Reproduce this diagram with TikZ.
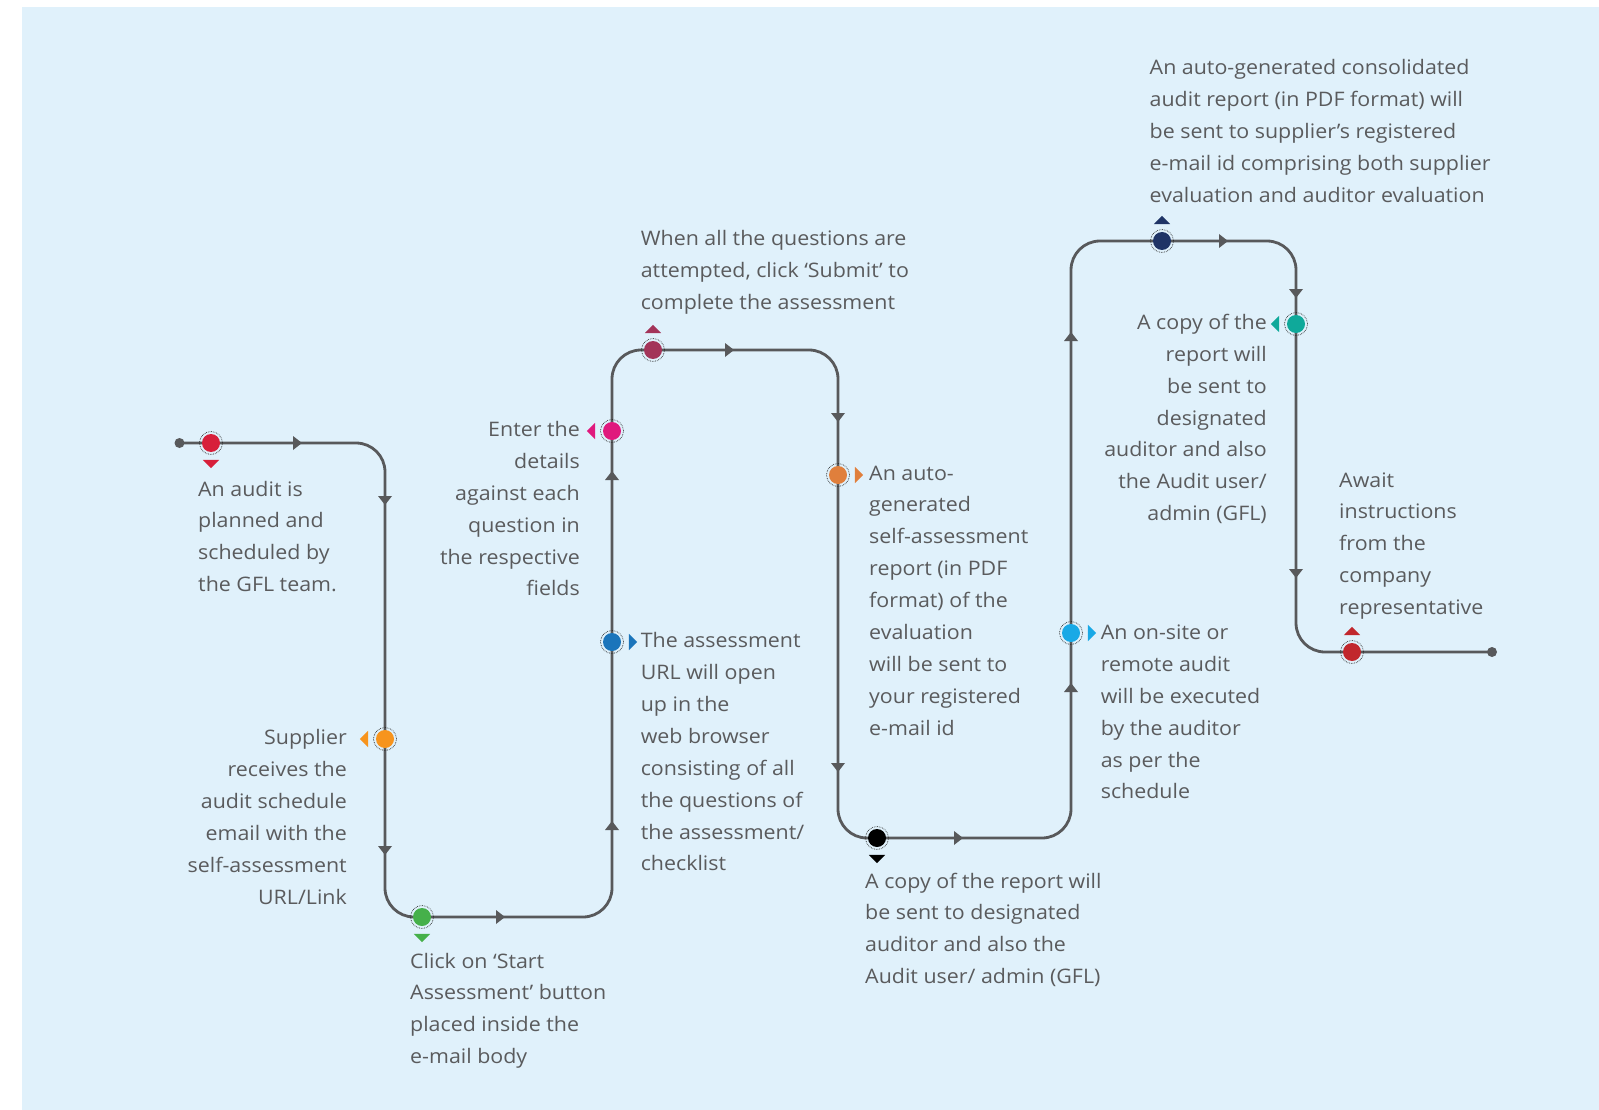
\documentclass[tikz,border=0pt]{standalone}
\usepackage{fontspec}
\setmainfont[FakeStretch=1.07]{Open Sans}
\usetikzlibrary{backgrounds,calc}
\definecolor{bg}{HTML}{E0F1FB}
\definecolor{linec}{HTML}{58595B}
\definecolor{txt}{HTML}{5A5B5D}
\definecolor{cRedA}{HTML}{D71F3A}
\definecolor{cOrangeA}{HTML}{F7941D}
\definecolor{cGreen}{HTML}{46B04A}
\definecolor{cMaroon}{HTML}{A33459}
\definecolor{cPink}{HTML}{E0197D}
\definecolor{cBlue}{HTML}{1B75BB}
\definecolor{cOrangeB}{HTML}{E07F3C}
\definecolor{cBlack}{HTML}{000000}
\definecolor{cLBlue}{HTML}{19A9E6}
\definecolor{cNavy}{HTML}{1F3466}
\definecolor{cTeal}{HTML}{0FA99A}
\definecolor{cRedB}{HTML}{C1272D}
\tikzset{
  pathline/.style={draw=linec, line width=2.8pt, rounded corners=29pt},
  enddot/.style={circle, fill=linec, minimum size=10pt, inner sep=0pt},
  marker/.style={circle, draw=black!85, densely dotted, line width=0.7pt,
    minimum size=23pt, inner sep=0pt,
    path picture={\fill[#1] (path picture bounding box.center) circle (9pt);}},
  lbl/.style={text=txt, inner sep=0pt, font=\fontsize{20}{31.9}\selectfont},
  arr/.pic={\fill[linec] (5,0) -- (-4,7) -- (-4,-7) -- cycle;},
  mtri/.pic={\fill[#1] (4.2,0) -- (-4.2,8.2) -- (-4.2,-8.2) -- cycle;}
}
\begin{document}
\begin{tikzpicture}[x=1pt,y=-1pt]
\useasboundingbox (0,0) rectangle (1599,1110);
\begin{pgfonlayer}{background}
\fill[bg] (22,7) rectangle (1599,1110);
\end{pgfonlayer}

% end dots
\node[enddot] (s) at (179.5,443) {};
\node[enddot] (e) at (1492,652) {};

% corners
\coordinate (c1) at (385,443);
\coordinate (c2) at (385,917);
\coordinate (c3) at (612,917);
\coordinate (c4) at (612,350);
\coordinate (c5) at (838,350);
\coordinate (c6) at (838,838);
\coordinate (c7) at (1071,838);
\coordinate (c8) at (1071,241);
\coordinate (c9) at (1296,241);
\coordinate (c10) at (1296,652);

% markers
\node[marker=cRedA]    (m1)  at (211,443) {};
\node[marker=cOrangeA] (m2)  at (385,739) {};
\node[marker=cGreen]   (m3)  at (422,917) {};
\node[marker=cPink]    (m4)  at (612,431) {};
\node[marker=cMaroon]  (m5)  at (653,350) {};
\node[marker=cBlue]    (m6)  at (612,642) {};
\node[marker=cOrangeB] (m7)  at (838,475) {};
\node[marker=cBlack]   (m8)  at (877,838) {};
\node[marker=cLBlue]   (m9)  at (1071,633) {};
\node[marker=cNavy]    (m10) at (1162,241) {};
\node[marker=cTeal]    (m11) at (1296,324) {};
\node[marker=cRedB]    (m12) at (1352,652) {};

% marker pointers
\pic[rotate=-90] at ($(m1)+(0,21)$) {mtri=cRedA};
\pic[rotate=180] at ($(m2)+(-21,0)$) {mtri=cOrangeA};
\pic[rotate=-90] at ($(m3)+(0,21)$) {mtri=cGreen};
\pic[rotate=180] at ($(m4)+(-21,0)$) {mtri=cPink};
\pic[rotate=90] at ($(m5)+(0,-21)$) {mtri=cMaroon};
\pic[rotate=0] at ($(m6)+(21,0)$) {mtri=cBlue};
\pic[rotate=0] at ($(m7)+(21,0)$) {mtri=cOrangeB};
\pic[rotate=-90] at ($(m8)+(0,21)$) {mtri=cBlack};
\pic[rotate=0] at ($(m9)+(21,0)$) {mtri=cLBlue};
\pic[rotate=90] at ($(m10)+(0,-21)$) {mtri=cNavy};
\pic[rotate=180] at ($(m11)+(-21,0)$) {mtri=cTeal};
\pic[rotate=90] at ($(m12)+(0,-21)$) {mtri=cRedB};

% connector
\begin{pgfonlayer}{background}
\draw[pathline] (s.center) -- (c1) -- (c2) -- (c3) -- (c4) -- (c5) -- (c6)
  -- (c7) -- (c8) -- (c9) -- (c10) -- (e.center);
\end{pgfonlayer}

% direction arrows
\pic at (297,443) {arr};
\pic[rotate=-90] at (385,500) {arr};
\pic[rotate=-90] at (385,850) {arr};
\pic at (500,917) {arr};
\pic[rotate=90] at (612,826) {arr};
\pic[rotate=90] at (612,476) {arr};
\pic at (729,350) {arr};
\pic[rotate=-90] at (838,417) {arr};
\pic[rotate=-90] at (838,767) {arr};
\pic at (958,838) {arr};
\pic[rotate=90] at (1071,688) {arr};
\pic[rotate=90] at (1071,337) {arr};
\pic at (1223,241) {arr};
\pic[rotate=-90] at (1296,293) {arr};
\pic[rotate=-90] at (1296,573) {arr};

% labels (anchored at the baseline of the last line)
\node[lbl, anchor=base west, align=left] (t1) at (198,591.7)
  {An audit is\\planned and\\scheduled by\\the GFL team.};
\node[lbl, anchor=base east, align=right] (t2) at (347,904)
  {Supplier\\receives the\\audit schedule\\email with the\\self-assessment\\URL/Link};
\node[lbl, anchor=base west, align=left] (t3) at (410,1063.7)
  {Click on ‘Start\\Assessment’ button\\placed inside the\\e-mail body};
\node[lbl, anchor=base east, align=right] (t4) at (580,595.9)
  {Enter the\\details\\against each\\question in\\the respective\\fields};
\node[lbl, anchor=base west, align=left] (t5) at (640.6,870.9)
  {The assessment\\URL will open\\up in the\\web browser\\consisting of all\\the questions of\\the assessment/\\checklist};
\node[lbl, anchor=base west, align=left] (t6) at (640.6,309.5)
  {When all the questions are\\attempted, click ‘Submit’ to\\complete the assessment};
\node[lbl, anchor=base west, align=left] (t7) at (869,735.2)
  {An auto-\\generated\\self-assessment\\report (in PDF\\format) of the\\evaluation\\will be sent to\\your registered\\e-mail id};
\node[lbl, anchor=base west, align=left] (t8) at (865,983.7)
  {A copy of the report will\\be sent to designated\\auditor and also the\\Audit user/ admin (GFL)};
\node[lbl, anchor=base west, align=left] (t9) at (1100.6,798.9)
  {An on-site or\\remote audit\\will be executed\\by the auditor\\as per the\\schedule};
\node[lbl, anchor=base west, align=left] (t10) at (1149.5,202.1)
  {An auto-generated consolidated\\audit report (in PDF format) will\\be sent to supplier’s registered\\e-mail id comprising both supplier\\evaluation and auditor evaluation};
\node[lbl, anchor=base east, align=right] (t11) at (1267,520.7)
  {A copy of the\\report will\\be sent to\\designated\\auditor and also\\the Audit user/\\admin (GFL)};
\node[lbl, anchor=base west, align=left] (t12) at (1339,614.6)
  {Await\\instructions\\from the\\company\\representative};
\end{tikzpicture}
\end{document}
